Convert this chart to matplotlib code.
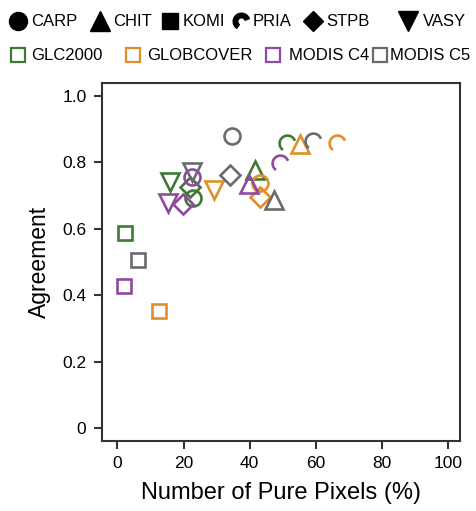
import numpy as np
import matplotlib
matplotlib.use("Agg")
import matplotlib.pyplot as plt
from matplotlib.path import Path
from matplotlib.lines import Line2D

plt.rcParams['font.family'] = ['Liberation Sans', 'DejaVu Sans']

# ---- data ----
sites = ['CARP', 'CHIT', 'KOMI', 'PRIA', 'STPB', 'VASY']
datasets = ['GLC2000', 'GLOBCOVER', 'MODIS C4', 'MODIS C5']

glc2000_pure = [23.0, 41.7, 2.3, 51.4, 22.0, 15.9]
glc2000_agree = [0.691, 0.776, 0.588, 0.857, 0.726, 0.740]
globcover_pure = [43.1, 55.1, 12.7, 66.3, 43.1, 29.2]
globcover_agree = [0.736, 0.853, 0.352, 0.857, 0.694, 0.715]
modisc4_pure = [22.5, 39.8, 2.0, 49.2, 19.9, 15.4]
modisc4_agree = [0.756, 0.734, 0.427, 0.797, 0.673, 0.676]
modisc5_pure = [34.7, 47.3, 6.2, 59.2, 34.0, 22.5]
modisc5_agree = [0.879, 0.686, 0.506, 0.862, 0.761, 0.770]

x_ticks = [0, 20, 40, 60, 80, 100]
y_ticks = [0, 0.2, 0.4, 0.6, 0.8, 1.0]
y_ticklabels = ['0', '0.2', '0.4', '0.6', '0.8', '1.0']

# ---- styles ----
colors = {'GLC2000': '#3f7a35', 'GLOBCOVER': '#e0902a',
          'MODIS C4': '#8e4aa0', 'MODIS C5': '#6b6b6d'}

arc_path = Path.arc(20, 235)
outer = Path.arc(20, 235).vertices
inner = (Path.arc(20, 235).vertices * 0.45)[::-1]
cres_verts = np.vstack([outer, inner, outer[:1]])
cres_codes = [Path.MOVETO] + [Path.LINETO] * (len(cres_verts) - 2) + [Path.CLOSEPOLY]
crescent = Path(cres_verts, cres_codes)

markers = {'CARP': 'o', 'CHIT': '^', 'KOMI': 's', 'PRIA': arc_path, 'STPB': 'D', 'VASY': 'v'}
msizes = {'CARP': 11.5, 'CHIT': 13, 'KOMI': 10, 'PRIA': 11.5, 'STPB': 10, 'VASY': 13}
leg_marker = {'CARP': 'o', 'CHIT': '^', 'KOMI': 's', 'PRIA': crescent, 'STPB': 'D', 'VASY': 'v'}
leg_msizes = {'CARP': 13, 'CHIT': 14.5, 'KOMI': 11, 'PRIA': 12, 'STPB': 10.5, 'VASY': 15}

fig = plt.figure(figsize=(4.76, 5.11), dpi=100)
ax = fig.add_axes([0.2137, 0.1376, 0.9664 - 0.2137, 0.837 - 0.1376])

series = [('GLC2000', glc2000_pure, glc2000_agree),
          ('GLOBCOVER', globcover_pure, globcover_agree),
          ('MODIS C5', modisc5_pure, modisc5_agree),
          ('MODIS C4', modisc4_pure, modisc4_agree)]

for name, xs, ys in series:
    for site, xv, yv in zip(sites, xs, ys):
        ax.plot([xv], [yv], linestyle='none', marker=markers[site],
                markersize=msizes[site], markerfacecolor='none',
                markeredgecolor=colors[name], markeredgewidth=1.9)

ax.set_xlim(-4.7, 103.5)
ax.set_ylim(-0.038, 1.037)
ax.set_xticks(x_ticks)
ax.set_yticks(y_ticks)
ax.set_yticklabels(y_ticklabels)
ax.tick_params(direction='out', length=6, width=1.5, labelsize=12.5, color='#333333', pad=5)
for s in ax.spines.values():
    s.set_linewidth(1.5)
    s.set_color('#333333')
ax.set_xlabel('Number of Pure Pixels (%)', fontsize=17, labelpad=8)
ax.set_ylabel('Agreement', fontsize=16.5, labelpad=8)

# ---- legends (one small legend per entry, laid out in two rows) ----
W, H = 476.0, 511.0
leg_font = {'family': ['Liberation Sans', 'DejaVu Sans'], 'size': 12}
fs_px = leg_font['size'] * 100 / 72
row1_centers = [17.5, 100, 170, 241, 313, 408]
row1_text = [30, 112, 182, 252, 325, 422]
for site, cx, tx in zip(sites, row1_centers, row1_text):
    h = Line2D([], [], linestyle='none', marker=leg_marker[site],
               markersize=leg_msizes[site], markerfacecolor='black',
               markeredgecolor='black')
    hl_px = 2 * (tx - cx) - 2
    fig.legend([h], [site], loc='center left',
               bbox_to_anchor=((cx - hl_px / 2) / W, 1 - 22 / H),
               frameon=False, prop=leg_font, handlelength=hl_px / fs_px,
               handletextpad=2 / fs_px, borderpad=0, borderaxespad=0)

row2_centers = [18, 133, 273, 380]
row2_text = [30, 146, 288, 389]
for d, cx, tx in zip(datasets, row2_centers, row2_text):
    h = Line2D([], [], linestyle='none', marker='s', markersize=10.5,
               markerfacecolor='none', markeredgecolor=colors[d],
               markeredgewidth=1.6)
    hl_px = 2 * (tx - cx) - 2
    fig.legend([h], [d], loc='center left',
               bbox_to_anchor=((cx - hl_px / 2) / W, 1 - 56 / H),
               frameon=False, prop=leg_font, handlelength=hl_px / fs_px,
               handletextpad=2 / fs_px, borderpad=0, borderaxespad=0)

fig.savefig('out.png', dpi=100)
